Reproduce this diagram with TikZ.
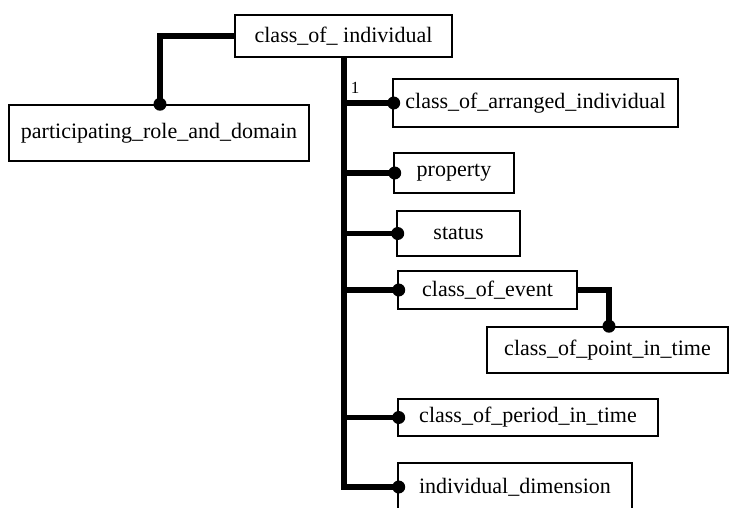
\documentclass[tikz,border=0pt]{standalone}
\usepackage{fontspec}
\setmainfont{Liberation Serif}
\begin{document}
\begin{tikzpicture}[x=1pt,y=-1pt,
  box/.style={draw=black,line width=1.6pt,fill=white,inner sep=0pt,font=\fontsize{22}{25}\selectfont},
  conn/.style={line width=5.5pt,black},
  dotc/.style={fill=black}]
\useasboundingbox (0,0) rectangle (729,507);
\clip (0,0) rectangle (729,507);
\fill[white] (0,0) rectangle (729,507);
\node[box,minimum width=217pt,minimum height=42pt] (coi) at (343.5,36) {class\_of\_ individual};
\node[box,minimum width=300pt,minimum height=56pt] (prd) at (159,133) {participating\_role\_and\_domain};
\node[box,minimum width=285pt,minimum height=48pt] (cai) at (535.5,103) {class\_of\_arranged\_individual};
\node[box,minimum width=120pt,minimum height=40pt] (prop) at (454,173) {property};
\node[box,minimum width=123pt,minimum height=45pt] (stat) at (458.5,233.5) {status};
\node[box,minimum width=179pt,minimum height=38pt] (coe) at (487.5,290) {class\_of\_event};
\node[box,minimum width=241pt,minimum height=46pt] (copit) at (607.5,350) {class\_of\_point\_in\_time};
\node[box,minimum width=260pt,minimum height=37pt] (period) at (528,417.5) {class\_of\_period\_in\_time};
\node[box,minimum width=234pt,minimum height=48pt] (indiv) at (515,487) {individual\_dimension};
\node[font=\fontsize{17}{19}\selectfont,inner sep=0pt] (one) at (355,88) {1};
% connectors
\draw[conn] (coi.west) -| (prd.north -| 160,0);
\fill[dotc] (prd.north -| 160,0) circle (6.5pt);
\draw[conn] (coi.south -| 344,0) |- (indiv.west);
\foreach \n in {cai,prop,stat,coe,period} {
  \draw[conn] (344,0 |- \n.west) -- (\n.west);
}
\foreach \n in {cai,prop,stat,coe,period,indiv} {
  \fill[dotc] (\n.west) ++(1.5pt,0) circle (6.5pt);
}
\draw[conn] (coe.east) -| (copit.north -| 609,0);
\fill[dotc] (copit.north -| 609,0) circle (6.5pt);
\end{tikzpicture}
\end{document}
